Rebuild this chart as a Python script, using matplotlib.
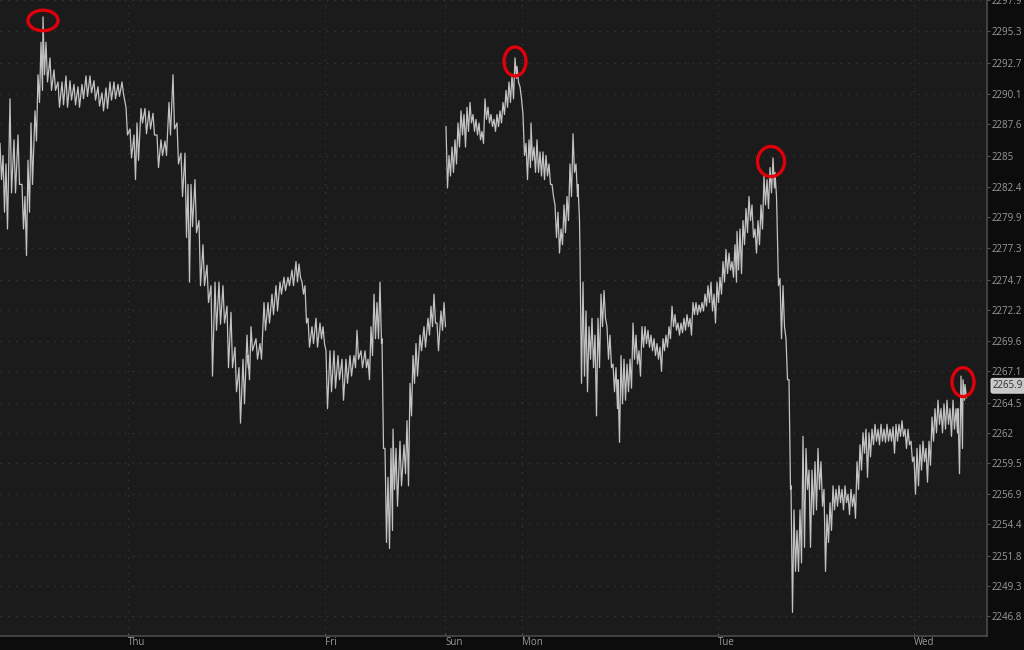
import matplotlib
matplotlib.use("Agg")
import matplotlib.pyplot as plt
from matplotlib.patches import Ellipse
import numpy as np

# session 1 (Wed night .. Fri close): time index, high / low of each slice
s1_t = [0, 3, 6, 10, 14, 18, 22, 25, 28, 31, 35, 38, 41, 43, 46, 50, 54, 58, 62, 66,
        70, 74, 78, 82, 86, 90, 94, 98, 102, 106, 110, 114, 118, 122, 126, 130, 134, 137, 141, 145,
        149, 153, 157, 161, 165, 169, 173, 177, 181, 185, 188, 191, 195, 199, 203, 207, 211, 215, 219, 223,
        227, 231, 235, 239, 243, 247, 248, 251, 256, 260, 264, 268, 272, 276, 280, 284, 288, 292, 296, 299,
        302, 305, 308, 312, 316, 320, 323, 326, 330, 334, 338, 342, 346, 350, 354, 357, 361, 365, 368, 371,
        374, 377, 380, 382, 385, 388, 391, 393, 396, 400, 404, 407, 410, 413, 416, 420, 424, 428, 431, 434,
        437, 441, 444]
s1_hi = [2286.0, 2285.0, 2284.3, 2289.7, 2286.3, 2286.7, 2282.6, 2281.6, 2284.6, 2287.7, 2288.7, 2291.7, 2294.4, 2296.5, 2294.4, 2293.1, 2292.1, 2291.1, 2291.1, 2291.6,
         2291.2, 2290.9, 2290.7, 2290.9, 2291.6, 2291.6, 2291.2, 2290.7, 2290.2, 2290.6, 2291.1, 2291.1, 2290.9, 2291.1, 2289.0, 2287.2, 2286.7, 2287.7, 2288.9, 2288.9,
         2288.7, 2288.5, 2286.7, 2286.3, 2286.2, 2289.4, 2291.7, 2287.7, 2285.2, 2285.2, 2282.6, 2282.6, 2283.0, 2279.6, 2277.6, 2275.9, 2274.2, 2274.5, 2274.5, 2274.2,
         2272.5, 2272.0, 2269.1, 2267.4, 2268.1, 2270.1, 2268.4, 2270.8, 2269.8, 2269.4, 2272.8, 2272.8, 2273.5, 2274.2, 2274.5, 2274.9, 2274.9, 2275.5, 2276.2, 2276.0,
         2274.5, 2274.2, 2271.5, 2270.8, 2271.5, 2271.1, 2270.8, 2268.8, 2268.8, 2268.8, 2268.4, 2268.1, 2268.1, 2268.4, 2268.4, 2270.5, 2268.8, 2268.8, 2268.1, 2270.8,
         2273.5, 2272.8, 2274.5, 2269.8, 2260.7, 2258.3, 2260.7, 2262.3, 2260.7, 2261.3, 2261.0, 2263.0, 2266.1, 2268.4, 2269.4, 2270.1, 2270.8, 2271.5, 2272.5, 2273.5,
         2271.1, 2272.1, 2272.8]
s1_lo = [2283.0, 2280.3, 2278.9, 2281.9, 2281.9, 2282.6, 2278.9, 2276.7, 2280.3, 2282.6, 2286.2, 2289.4, 2290.4, 2291.7, 2291.1, 2290.4, 2290.4, 2289.0, 2289.2, 2289.0,
         2289.6, 2289.2, 2289.0, 2289.7, 2289.9, 2290.2, 2289.6, 2289.1, 2288.7, 2288.9, 2289.6, 2289.7, 2289.9, 2290.1, 2286.7, 2284.8, 2283.0, 2284.6, 2287.7, 2286.8,
         2287.2, 2286.7, 2284.0, 2285.0, 2285.0, 2286.7, 2287.2, 2284.3, 2281.6, 2278.2, 2274.5, 2279.1, 2278.6, 2274.2, 2274.2, 2272.8, 2266.7, 2270.5, 2271.0, 2271.1,
         2267.4, 2267.4, 2265.4, 2262.8, 2264.4, 2267.4, 2266.4, 2268.8, 2268.1, 2268.1, 2270.5, 2271.1, 2271.8, 2272.1, 2273.5, 2273.8, 2274.2, 2274.2, 2274.5, 2274.9,
         2273.5, 2271.1, 2269.1, 2269.4, 2269.1, 2269.8, 2269.4, 2264.0, 2265.4, 2265.7, 2266.4, 2264.7, 2266.1, 2266.7, 2267.4, 2268.1, 2267.4, 2267.4, 2266.4, 2268.4,
         2269.8, 2269.8, 2269.4, 2260.7, 2252.9, 2252.4, 2253.9, 2257.3, 2255.9, 2257.6, 2258.6, 2257.6, 2263.4, 2266.1, 2266.7, 2268.8, 2269.1, 2270.1, 2270.8, 2271.1,
         2268.8, 2270.5, 2270.8]

# session 2 (Sun open .. Wed)
s2_t = [446, 449, 452, 455, 458, 461, 464, 467, 470, 473, 476, 479, 482, 485, 488, 491, 494, 497, 500, 503,
        506, 509, 512, 515, 517, 520, 523, 526, 529, 531, 534, 537, 540, 543, 546, 549, 552, 555, 558, 561,
        564, 567, 570, 573, 576, 578, 580, 583, 586, 589, 592, 595, 598, 601, 604, 607, 610, 613, 616, 618,
        621, 624, 627, 630, 633, 636, 639, 642, 645, 648, 651, 654, 657, 660, 663, 666, 669, 672, 675, 678,
        681, 684, 687, 690, 693, 696, 699, 702, 705, 708, 711, 714, 717, 720, 723, 726, 729, 732, 735, 737,
        740, 743, 746, 749, 752, 755, 758, 761, 764, 767, 770, 773, 775, 777, 780, 783, 786, 789, 791, 794,
        797, 800, 803, 806, 809, 812, 815, 818, 821, 824, 827, 830, 833, 836, 839, 842, 845, 848, 851, 854,
        857, 860, 863, 866, 869, 872, 875, 878, 881, 884, 887, 890, 893, 896, 899, 902, 905, 908, 911, 914,
        917, 920, 923, 926, 929, 932, 935, 938, 941, 944, 947, 950, 953, 956, 958, 961, 963, 965]
s2_hi = [2287.4, 2285.0, 2285.7, 2286.3, 2287.7, 2288.7, 2288.4, 2289.0, 2289.4, 2288.4, 2288.0, 2287.7, 2287.0, 2289.7, 2289.0, 2288.4, 2288.0, 2288.4, 2288.7, 2289.4,
         2290.4, 2291.1, 2291.7, 2293.1, 2292.4, 2290.7, 2288.4, 2286.0, 2286.3, 2287.7, 2285.7, 2286.3, 2285.3, 2285.3, 2285.0, 2284.3, 2282.6, 2280.9, 2280.3, 2278.9,
         2280.9, 2281.6, 2284.3, 2286.8, 2284.3, 2282.6, 2276.9, 2274.5, 2272.1, 2270.8, 2271.5, 2270.1, 2271.5, 2273.5, 2273.8, 2270.8, 2270.1, 2267.7, 2267.4, 2266.4,
         2268.4, 2268.1, 2267.7, 2268.1, 2271.1, 2270.1, 2268.8, 2270.8, 2270.8, 2270.5, 2270.1, 2269.8, 2269.4, 2269.1, 2269.8, 2270.1, 2270.8, 2272.5, 2271.8, 2271.1,
         2271.1, 2271.5, 2271.8, 2271.5, 2272.8, 2272.8, 2272.6, 2272.8, 2273.5, 2274.2, 2274.5, 2273.5, 2274.5, 2274.9, 2276.2, 2277.2, 2276.9, 2276.2, 2277.6, 2278.7,
         2278.9, 2279.6, 2280.6, 2281.6, 2280.9, 2278.9, 2279.6, 2280.9, 2283.3, 2283.0, 2284.0, 2284.8, 2283.6, 2279.9, 2274.8, 2274.2, 2269.8, 2266.4, 2257.6, 2255.6,
         2253.9, 2255.6, 2261.7, 2260.7, 2258.9, 2258.9, 2259.6, 2260.7, 2259.6, 2257.3, 2255.2, 2256.2, 2257.6, 2257.3, 2257.6, 2257.3, 2257.6, 2256.9, 2257.3, 2256.9,
         2259.6, 2261.0, 2262.0, 2262.3, 2262.0, 2262.3, 2262.7, 2262.3, 2262.7, 2262.3, 2262.7, 2262.3, 2262.5, 2262.7, 2262.7, 2263.0, 2262.3, 2262.3, 2261.3, 2260.0,
         2260.7, 2261.0, 2261.3, 2260.7, 2261.3, 2263.3, 2264.0, 2264.7, 2264.0, 2264.4, 2264.7, 2264.0, 2264.7, 2264.0, 2264.0, 2266.7, 2266.4, 2266.0]
s2_lo = [2282.3, 2283.3, 2283.6, 2284.3, 2285.7, 2286.7, 2285.7, 2287.0, 2287.7, 2287.0, 2286.7, 2286.3, 2286.0, 2288.0, 2287.7, 2287.4, 2287.0, 2287.4, 2287.7, 2288.4,
         2289.0, 2289.4, 2289.7, 2291.4, 2291.1, 2289.7, 2285.0, 2283.0, 2284.0, 2284.6, 2283.6, 2283.6, 2283.3, 2283.0, 2283.3, 2282.6, 2281.6, 2278.2, 2276.9, 2277.6,
         2278.6, 2279.6, 2281.6, 2283.6, 2281.6, 2279.6, 2266.1, 2266.7, 2265.4, 2268.1, 2267.4, 2263.4, 2267.4, 2270.8, 2271.5, 2268.1, 2267.4, 2265.4, 2264.0, 2261.2,
         2264.4, 2264.7, 2265.4, 2265.7, 2268.1, 2267.7, 2266.7, 2269.1, 2269.4, 2269.1, 2268.8, 2268.4, 2268.1, 2267.1, 2268.8, 2269.1, 2269.8, 2270.8, 2270.5, 2270.1,
         2270.3, 2270.5, 2270.8, 2270.1, 2271.8, 2271.8, 2272.0, 2272.1, 2272.5, 2272.8, 2272.1, 2271.1, 2272.8, 2273.5, 2274.5, 2275.2, 2275.5, 2274.9, 2274.5, 2275.5,
         2275.2, 2277.6, 2278.6, 2279.6, 2278.2, 2276.9, 2277.6, 2278.9, 2280.9, 2280.6, 2281.9, 2282.3, 2281.6, 2274.2, 2269.8, 2270.8, 2266.4, 2257.3, 2247.1, 2250.5,
         2250.5, 2251.2, 2252.5, 2257.3, 2252.5, 2255.2, 2255.6, 2257.3, 2255.9, 2250.5, 2252.9, 2253.9, 2255.6, 2255.9, 2256.2, 2255.6, 2256.2, 2255.2, 2255.9, 2254.9,
         2257.3, 2258.9, 2260.3, 2258.3, 2260.0, 2261.0, 2261.3, 2261.0, 2261.3, 2261.2, 2261.3, 2261.3, 2260.3, 2261.3, 2261.7, 2261.7, 2260.7, 2261.0, 2259.6, 2256.9,
         2257.6, 2258.9, 2259.6, 2257.9, 2259.3, 2261.3, 2262.0, 2262.7, 2262.0, 2262.3, 2262.7, 2261.7, 2262.3, 2262.0, 2258.6, 2260.7, 2264.7, 2264.9]

day_pos = [128, 325, 445, 522, 718, 914]
day_labels = ["Thu", "Fri", "Sun", "Mon", "Tue", "Wed"]
price_ticks = [2246.8, 2249.3, 2251.8, 2254.4, 2256.9, 2259.5, 2262, 2264.5, 2267.1, 2269.6,
               2272.2, 2274.7, 2277.3, 2279.9, 2282.4, 2285, 2287.6, 2290.1, 2292.7, 2295.3, 2297.9]
last_price = 2265.9

# highlighted highs: time, price, width (time units), height (price)
marks_t = [43, 515, 771, 963]
marks_p = [2296.2, 2292.8, 2284.5, 2266.2]
marks_w = [30, 22, 27, 22]
marks_h = [1.7, 2.4, 2.5, 2.4]

plt.rcParams['font.family'] = ['Open Sans', 'DejaVu Sans']

fig = plt.figure(figsize=(10.24, 6.5), dpi=100, facecolor='#0c0c0c')
ax = fig.add_axes([0, 14 / 650, 987 / 1024, 636 / 650])
ax.set_facecolor('#1b1b1b')


def zigzag(t, hi, lo):
    # high then low of every slice, chained into one jagged line
    xs, ys = [], []
    for i in range(len(t)):
        xs += [t[i], t[i] + 1.5]
        ys += [hi[i], lo[i]]
    return xs, ys


for t, hi, lo in [(s1_t, s1_hi, s1_lo), (s2_t, s2_hi, s2_lo)]:
    xs, ys = zigzag(t, hi, lo)
    ax.plot(xs, ys, color='#c2c2c2', lw=0.9)

for t, p, w, h in zip(marks_t, marks_p, marks_w, marks_h):
    ax.add_patch(Ellipse((t, p), w, h, fill=False, ec='#e0000a', lw=2.4, zorder=5))

ax.set_xlim(0, 987)
ax.set_ylim(2245.14, 2297.87)

ax.set_xticks(day_pos)
ax.set_xticklabels(day_labels, ha='left')
ax.set_yticks(price_ticks)
ax.set_yticklabels([f"{v:g}" for v in price_ticks])
ax.yaxis.tick_right()
ax.tick_params(axis='both', colors='#555555', labelcolor='#9a9a9a', labelsize=7, width=0.8)
ax.tick_params(axis='x', length=2, direction='in', pad=1)
ax.tick_params(axis='y', length=2, pad=1)

ax.grid(True, color='#3d3d3d', linestyle=(0, (1, 6)), lw=0.8)
ax.set_axisbelow(True)

for side in ['top', 'left']:
    ax.spines[side].set_visible(False)
for side in ['right', 'bottom']:
    ax.spines[side].set_color('#4a4a4a')
    ax.spines[side].set_linewidth(1.2)

ax.text(1.006, last_price, f"{last_price}", transform=ax.get_yaxis_transform(),
        fontsize=7, color='#2e2e2e', va='center', ha='left', clip_on=False,
        bbox=dict(boxstyle='round,pad=0.2', fc='#c8c8c8', ec='#e0e0e0', lw=0.6))

fig.savefig('out.png', dpi=100, facecolor=fig.get_facecolor())
